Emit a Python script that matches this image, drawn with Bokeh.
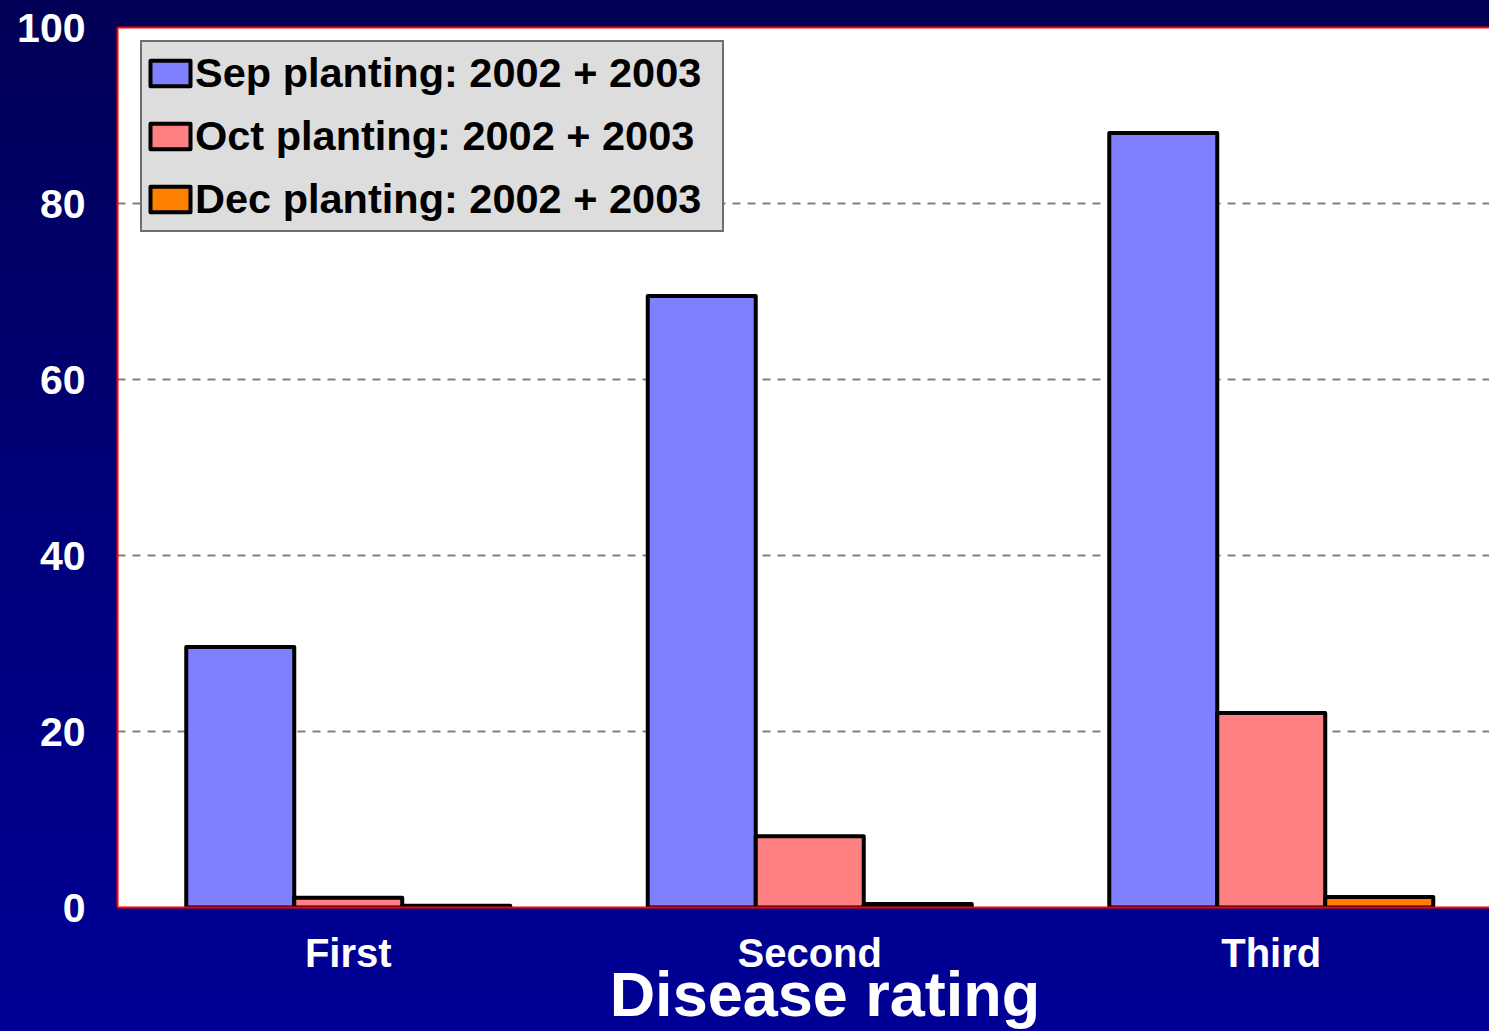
from bokeh.plotting import figure
from bokeh.models import Range1d, FixedTicker, LinearAxis, Legend, LegendItem
from bokeh.embed import file_html
from bokeh.resources import INLINE

# Disease incidence (%) by rating, for three planting dates
categories = ["First", "Second", "Third"]
sep_values = [29.6, 69.5, 88.0]
oct_values = [1.1, 8.1, 22.1]
dec_values = [0.2, 0.4, 1.2]
series_names = [
    "Sep planting: 2002 + 2003",
    "Oct planting: 2002 + 2003",
    "Dec planting: 2002 + 2003",
]
series_colors = ["#8080FF", "#FF8080", "#FF8000"]
y_ticks = [0, 20, 40, 60, 80, 100]
grid_ticks = [20, 40, 60, 80]
x_title = "Disease rating"

FONT = "Liberation Sans"
W, H = 1489, 1031
FRAME_L, FRAME_T, FRAME_B = 117, 27, 124
SLOT_PX = 461.5            # pixel width of one category slot
BAR_W = 108 / SLOT_PX      # bar width in category units
x_end = (W - FRAME_L) / SLOT_PX
TITLE_X = 1.533            # horizontal centre of the axis title, in category units

p = figure(
    width=W, height=H,
    output_backend="svg", toolbar_location=None,
    x_range=Range1d(0, x_end), y_range=Range1d(0, 100),
    min_border_left=FRAME_L, min_border_top=FRAME_T,
    min_border_bottom=FRAME_B, min_border_right=0,
)
p.border_fill_alpha = 0
p.background_fill_color = "white"
p.outline_line_color = None
p.styles = {"background": "linear-gradient(to bottom, #000056 0%, #00007a 50%, #000096 100%)"}

# y axis
p.yaxis.ticker = FixedTicker(ticks=y_ticks)
p.yaxis.axis_line_color = "#ff0000"
p.yaxis.axis_line_width = 2
p.yaxis.major_tick_line_color = None
p.yaxis.minor_tick_line_color = None
p.yaxis.major_label_text_color = "white"
p.yaxis.major_label_text_font = FONT
p.yaxis.major_label_text_font_style = "bold"
p.yaxis.major_label_text_font_size = "41px"
p.yaxis.major_label_standoff = 26

# x axis with category names at slot centres
centers = [i + 0.5 for i in range(len(categories))]
xa = p.below[0]
xa.ticker = FixedTicker(ticks=centers)
xa.major_label_overrides = {c: name for c, name in zip(centers, categories)}
xa.axis_line_color = "#ff0000"
xa.axis_line_width = 2
xa.major_tick_line_color = None
xa.minor_tick_line_color = None
xa.major_label_text_color = "white"
xa.major_label_text_font = FONT
xa.major_label_text_font_style = "bold"
xa.major_label_text_font_size = "40px"
xa.major_label_standoff = 17

# axis title, drawn as a label-only axis under the category names
title_axis = LinearAxis(
    ticker=FixedTicker(ticks=[TITLE_X]),
    major_label_overrides={TITLE_X: x_title},
    axis_line_color=None, major_tick_line_color=None, minor_tick_line_color=None,
    major_label_text_color="white", major_label_text_font=FONT,
    major_label_text_font_style="bold", major_label_text_font_size="63px",
    major_label_standoff=-25,
)
p.add_layout(title_axis, "below")

# red top edge of the plot area
top_edge = LinearAxis(
    ticker=FixedTicker(ticks=[]),
    axis_line_color="#ff0000", axis_line_width=2,
    major_tick_line_color=None, minor_tick_line_color=None,
    major_label_text_font_size="0px",
)
p.add_layout(top_edge, "above")

# grid
p.xgrid.grid_line_color = None
p.ygrid.ticker = FixedTicker(ticks=grid_ticks)
p.ygrid.grid_line_color = "#808080"
p.ygrid.grid_line_width = 2
p.ygrid.grid_line_dash = "8 7"

# grouped bars
series = [sep_values, oct_values, dec_values]
items = []
for j, (vals, name, color) in enumerate(zip(series, series_names, series_colors)):
    xs = [c + (j - 1) * BAR_W for c in centers]
    r = p.vbar(x=xs, top=vals, width=BAR_W, bottom=0,
               fill_color=color, line_color="black", line_width=4,
               line_join="round")
    items.append(LegendItem(label=name, renderers=[r]))

legend = Legend(
    items=items, location=(23, 675),
    glyph_width=50, glyph_height=32, label_standoff=0, label_width=524,
    padding=3, spacing=7, label_height=56, margin=0,
    label_text_font=FONT, label_text_font_style="bold",
    label_text_font_size="41.5px", label_text_color="black",
    background_fill_color="#DDDDDD", background_fill_alpha=1,
    border_line_color="black", border_line_width=2,
)
p.add_layout(legend)

open("out.html", "w").write(file_html(p, INLINE))
